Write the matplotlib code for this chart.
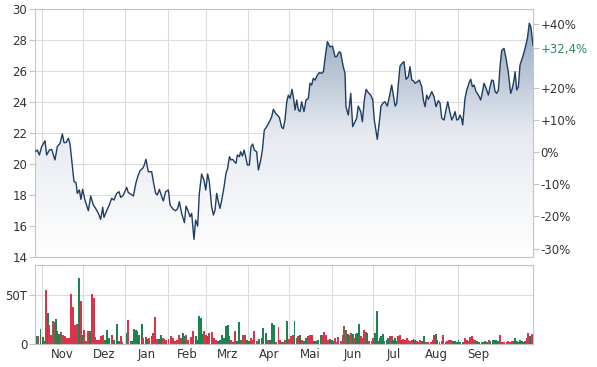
import numpy as np
import matplotlib
matplotlib.use('Agg')
import matplotlib.pyplot as plt
import matplotlib.dates as mdates
from matplotlib.colors import LinearSegmentedColormap

start = np.datetime64('2022-10-27')
end_day = 364.0

price_days = [0.0, 1.7, 3.2, 4.9, 7.3, 8.5, 10.5, 12.2, 14.6, 16.3, 18.3, 20.0, 21.2, 22.7, 24.4, 25.6,
              26.8, 28.5, 30.0, 30.9, 32.4, 33.6, 34.8, 36.5, 39.0, 40.7, 42.6, 44.3, 46.3, 48.0, 49.5,
              50.4, 52.4, 54.3, 56.0, 57.7, 59.7, 61.4, 62.6, 64.6, 67.0, 68.2, 69.9, 71.9, 73.8, 75.5,
              76.8, 78.7, 79.9, 81.1, 82.8, 85.3, 86.5, 88.2, 89.4, 90.9, 92.6, 93.8, 95.5, 97.5, 98.7,
              101.1, 102.8, 104.3, 105.5, 107.2, 109.2, 110.4, 112.1, 113.3, 114.5, 116.2, 117.4, 118.9,
              120.1, 121.8, 123.5, 124.8, 126.2, 127.4, 129.1, 130.4, 131.6, 132.8, 134.0, 135.2, 136.5,
              138.2, 139.6, 140.8, 142.1, 143.3, 144.5, 145.7, 146.9, 147.9, 149.4, 150.3, 151.6, 152.8,
              154.0, 155.2, 156.7, 157.9, 159.1, 160.3, 162.0, 163.3,
              165.0, 166.2, 167.6, 169.4, 171.3, 173.0, 174.2, 175.9, 177.1, 178.6, 180.3, 181.5, 182.7,
              184.0, 185.2, 186.4, 187.9, 188.8, 190.1, 191.3, 192.5, 193.7, 194.9, 196.6, 198.1, 199.8,
              201.0, 202.2, 203.4, 204.7, 206.4, 207.8, 209.6, 210.8, 212.0, 213.7,
              215.6, 217.5, 219.3, 220.4, 222.4, 223.4, 225.3, 226.6,
              227.3, 229.0, 230.8, 232.2, 233.9, 235.1, 236.3, 238.1, 239.3, 240.7, 242.0, 243.7, 245.4,
              246.9, 248.0, 250.2, 251.7, 252.9, 254.6, 255.8, 257.5, 259.0, 260.7, 261.9, 263.2, 264.4,
              265.6, 266.8, 268.8, 269.7, 271.2, 272.9, 274.1, 275.4, 276.5, 277.8, 279.5, 280.9, 282.7,
              283.9, 285.1, 286.3, 287.5, 290.0,
              291.7, 293.1, 294.8, 296.1, 297.3, 299.0, 300.4, 301.7, 302.9, 304.6, 305.8, 307.0, 308.3,
              309.4, 310.7, 311.9, 312.6, 314.3, 315.6, 317.5, 318.5, 319.7, 320.9, 322.4, 324.1, 325.8,
              327.3, 328.2, 329.7, 331.4, 332.6, 333.8, 335.0, 336.3, 337.5, 338.7, 339.9, 341.1, 342.8,
              344.3, 345.9, 347.7, 348.9, 350.1, 350.9, 352.1, 353.3, 354.5, 356.5, 358.2, 359.9, 361.3,
              362.4, 363.3, 364.0]
prices = [20.78, 20.89, 20.57, 21.11, 21.49, 20.57, 20.89, 20.93, 20.25, 21.11, 21.32, 21.93, 21.37,
          21.37, 21.65, 21.28, 20.25, 18.85, 18.78, 18.09, 18.31, 17.70, 18.35, 17.66, 16.97, 17.92,
          17.34, 17.12, 16.80, 16.41, 17.19, 16.54, 16.97, 17.34, 17.77, 17.66, 18.09, 18.20, 17.83,
          17.98, 18.48, 18.14, 18.05, 17.92, 18.78, 19.28, 19.56, 19.71, 19.92, 20.29, 19.49, 19.49,
          18.85, 18.09, 17.98, 18.35, 17.88, 17.60, 18.20, 18.31, 17.34, 17.06, 16.97, 17.12, 17.55,
          16.80, 16.20, 17.27, 16.91, 16.58, 16.80, 15.12, 16.37, 15.98, 18.09, 19.34, 18.95, 18.31,
          19.34, 18.85, 17.23, 16.69, 17.02, 18.09, 17.55, 17.12, 17.66, 18.52, 19.38, 19.71, 20.46,
          20.25, 20.29, 20.14, 20.03, 20.57, 20.46, 20.78, 20.50, 20.89, 20.46, 19.92, 19.92, 21.11,
          21.28, 20.89, 20.78, 19.60,
          20.25, 20.89, 22.18, 22.40, 22.72, 23.04, 23.52, 23.26, 23.15, 23.00, 22.36, 22.27, 22.83,
          24.01, 24.44, 24.23, 24.81, 24.34, 23.48, 24.12, 23.48, 23.37, 24.01, 23.37, 24.12, 24.23,
          25.20, 25.09, 25.52, 25.41, 25.74, 25.89, 25.85, 25.95, 26.81, 27.89,
          27.56, 27.60, 26.92, 26.92, 27.24, 27.18, 26.27, 25.85,
          23.69, 23.15, 24.55, 22.40, 22.72, 22.94, 23.73, 23.37, 22.72, 24.12, 24.81, 24.59, 24.44,
          24.12, 22.83, 21.58, 22.72, 23.73, 23.95, 24.01, 23.73, 24.33, 25.09, 24.44, 23.73, 23.91,
          25.20, 26.32, 26.53, 26.60, 25.46, 25.63, 26.27, 25.41, 25.37, 25.20, 25.30, 25.41, 24.98,
          24.12, 23.69, 24.44, 24.17, 24.66,
          24.33, 23.69, 24.08, 23.91, 22.94, 22.83, 23.48, 24.01, 23.48, 22.83, 23.04, 23.37, 22.83,
          22.87, 23.15, 22.87, 22.51, 24.23, 24.77, 25.30, 25.46, 24.98, 25.09, 24.66, 24.44, 24.12,
          24.77, 25.20, 24.88, 24.44, 24.98, 25.41, 25.37, 24.66, 24.55, 24.77, 26.27, 27.31, 27.46,
          26.81, 25.95, 24.55, 24.88, 25.41, 25.95, 24.77, 24.98, 26.38, 26.92, 27.46, 28.10, 29.08,
          28.86, 28.21, 27.67]

vol_days = [0.7, 2.4, 4.1, 5.6, 6.8, 8.0, 9.3, 10.5, 11.7, 12.9, 13.9, 15.1, 16.3, 17.8, 19.0, 20.2,
            21.9, 23.6, 24.9, 26.3, 27.5, 28.8, 30.0, 30.9, 32.2, 33.4, 34.6, 35.8, 37.3, 38.5, 40.2,
            41.9, 43.1, 44.3, 45.6, 46.8, 48.2, 49.9, 51.2, 52.9, 54.3, 56.0, 57.7, 59.7, 61.4, 62.6,
            63.8, 67.0, 68.2, 69.9, 71.2, 72.6, 73.8, 75.0, 76.3, 78.0, 79.2, 80.9, 82.1, 83.6, 85.3,
            86.5, 87.7, 88.9, 90.6, 92.1, 93.3, 94.5, 95.8, 97.5, 99.2, 100.6, 102.3, 103.6, 105.5,
            106.7, 107.9, 109.2, 110.4, 112.1, 113.8, 115.7, 117.4, 118.9, 120.1, 121.3, 122.6, 123.8,
            125.0, 126.2, 127.4, 129.1, 130.8, 132.3, 134.0, 135.2, 136.5, 138.2, 139.4, 140.8, 142.1,
            143.3, 145.0, 146.2, 147.9, 149.1, 150.3, 151.8, 153.5, 154.7, 156.2, 157.6, 159.1, 160.3,
            162.0, 164.0, 165.7, 166.9, 168.6, 170.1, 171.8, 173.0, 174.7, 176.2, 177.9, 179.1, 180.3,
            181.5, 182.7, 184.0, 185.7, 186.9, 188.4, 189.6, 191.3, 192.5, 193.7,
            194.9, 196.6, 198.1, 199.8, 201.0, 202.7, 203.9, 205.4, 207.1, 208.8, 210.3, 211.5, 212.7,
            214.4, 215.6, 216.9, 218.1, 219.3, 220.5, 221.7, 223.4, 224.9, 226.1, 227.3, 228.6, 229.8,
            231.0, 232.2, 233.4, 234.6, 235.6, 236.8, 238.1, 239.5, 240.5, 241.7, 242.9, 244.4, 246.1,
            247.3, 248.5, 249.8, 251.0, 252.2, 252.9, 254.1, 255.4, 257.1, 258.3, 259.5, 260.7, 261.9,
            263.2, 264.4, 265.6, 266.8, 268.0, 269.2, 270.5, 271.7, 272.9, 274.1, 275.3, 276.6, 277.8,
            279.0, 280.2, 281.4, 282.7, 284.4, 285.8, 287.5, 289.2, 290.7, 291.9, 293.1, 294.1, 295.6,
            297.3, 298.5, 300.2, 301.4, 302.6, 303.8, 305.3, 307.0, 308.2, 309.5, 310.7, 312.6, 314.3,
            315.5, 316.8, 318.0, 319.2, 320.4, 321.6, 322.9, 324.8, 326.5, 327.7, 328.9, 330.6, 332.1,
            333.0, 334.5, 335.7, 336.9, 338.7, 339.9, 341.1, 342.8, 344.8, 346.0, 347.2, 348.4, 349.7,
            350.9, 352.1, 353.3, 354.5, 355.8, 357.0, 358.2, 359.4, 360.6, 361.8, 363.0]
vols = [8.4, 7.8, 15.5, 6.8, 3.4, 55.1, 31.4, 18.9, 9.5, 23.0, 22.3, 25.7, 13.5, 10.1, 12.2, 9.5,
        8.4, 6.1, 6.1, 50.7, 38.2, 19.6, 18.9, 20.3, 67.6, 43.9, 9.5, 14.5, 3.4, 12.8, 13.5,
        50.7, 46.6, 6.8, 4.4, 4.4, 7.8, 9.5, 4.4, 14.5, 6.1, 9.5, 4.4, 20.3, 3.4, 7.8,
        2.0, 11.1, 24.7, 3.4, 2.7, 15.5, 14.5, 12.8, 9.5, 20.3, 6.1, 6.8, 5.4, 6.1, 7.8,
        11.1, 28.0, 5.4, 5.4, 8.9, 6.1, 5.4, 4.4, 5.4, 7.8, 6.1, 3.4, 4.4, 9.5,
        6.1, 11.1, 7.8, 9.5, 4.4, 6.8, 13.5, 7.8, 4.4, 28.7, 26.4, 10.1, 13.5,
        9.5, 7.8, 11.1, 12.2, 6.1, 4.4, 3.4, 4.4, 9.5, 6.1, 17.9, 19.6, 7.8,
        4.4, 2.0, 12.8, 3.4, 22.3, 4.4, 9.5, 8.9, 4.4, 3.4, 6.1, 4.4, 12.8,
        3.4, 5.4, 6.1, 16.2, 11.1, 4.4, 4.4, 21.3, 19.6, 2.0, 16.9, 4.4, 2.0,
        2.0, 4.4, 23.0, 5.4, 7.8, 9.5, 23.6, 6.1, 7.8, 9.5,
        4.4, 3.4, 6.1, 7.8, 9.5, 9.5, 3.4, 3.4, 4.4, 8.9, 9.5, 12.2, 9.5,
        4.4, 5.4, 4.4, 3.4, 6.1, 2.0, 6.8, 2.7, 9.5, 17.9, 14.5, 10.1, 8.9,
        11.1, 10.1, 6.1, 10.1, 11.1, 20.3, 7.8, 6.1, 14.5, 12.2, 11.1, 2.7, 3.4,
        6.1, 11.1, 33.8, 3.4, 6.1, 7.8, 10.1, 3.4, 4.4, 6.1, 7.8, 7.8, 4.4,
        6.1, 3.4, 7.8, 9.5, 4.4, 5.4, 4.4, 6.1, 4.4, 3.4, 4.4, 5.4, 4.4,
        2.7, 2.0, 4.4, 3.4, 7.8, 2.0, 2.0, 2.0, 4.4, 9.5, 10.1, 4.4, 2.0,
        3.4, 9.5, 2.0, 2.7, 4.4, 4.4, 2.7, 3.4, 2.0, 4.4, 2.0, 2.0, 6.1,
        4.4, 3.4, 6.8, 7.8, 5.4, 4.4, 3.4, 2.0, 2.0, 2.0, 3.4, 2.0, 4.4,
        3.4, 4.4, 4.4, 4.4, 3.4, 9.5, 2.0, 2.0, 2.0, 3.4, 2.0, 3.4, 2.7,
        6.1, 2.7, 2.0, 4.4, 3.4, 2.0, 3.4, 6.1, 11.1, 7.8, 10.1]
vol_colors = ("grgggrgrrbbgggbbrrrrrrrrgrgrrrgrrbrrrrgggrgggrrgrgggggggrrgrrrrrggrrrrrrrrrrggrrrrg"
              "ggggrrgrrrrgggggggrrrggbbrggrrrbggggrgggrrrggrgrrrg"
              "brgrggrrrggggrrrrgggrrrrbbbgrrgrgggrrrrgrrrgggggggggrrgggrrgrrrrrrggrrrggrrrrrggrrrrrrr"
              "ggggggrrrrrrrggggggrgggggrrrrrrrggggggggrr")

price_ticks = [14, 16, 18, 20, 22, 24, 26, 28, 30]
pct_ticks = [-30, -20, -10, 0, 10, 20, 32.4, 40]
base_price = 20.75
current_pct = 32.4
month_labels = ['Nov', 'Dez', 'Jan', 'Feb', 'Mrz', 'Apr', 'Mai', 'Jun', 'Jul', 'Aug', 'Sep']

colors = {'g': '#1c8250', 'r': '#d8344a', 'b': '#8a5b4e'}
line_col = '#1f3d62'
grid_col = '#dcdcdc'
spine_col = '#c4c4c4'
txt_col = '#333333'
fs = 8.5

t0 = mdates.date2num(start)
x = t0 + np.array(price_days)
y = np.array(prices)
vx = t0 + np.array(vol_days)
vy = np.array(vols)
vc = [colors[c] for c in vol_colors[:len(vols)]]

fig = plt.figure(figsize=(5.97, 3.67), dpi=100)
ax = fig.add_axes([35/597, 1-256.7/367, 498/597, 247.7/367])
axv = fig.add_axes([35/597, 1-344/367, 498/597, 79/367], sharex=ax)

ymin, ymax = 14, 30
ax.set_ylim(ymin, ymax)
ax.set_xlim(t0, t0 + end_day)

# gradient fill under line
poly = ax.fill_between(x, y, ymin, color='none', lw=0)
cmap = LinearSegmentedColormap.from_list('g', ['#ffffff', '#e6eaf0', '#8a9fb8'])
grad = np.linspace(0, 1, 256).reshape(-1, 1)
im = ax.imshow(grad, extent=[t0, t0 + end_day, ymin, ymax], origin='lower', aspect='auto',
               cmap=cmap, zorder=1)
path = poly.get_paths()[0]
im.set_clip_path(path, transform=ax.transData)
ax.plot(x, y, color=line_col, lw=1.0, zorder=3)

# bars
axv.bar(vx, vy, width=1.3, color=vc, zorder=2, linewidth=0)
axv.set_ylim(0, 80.6)

month_starts = np.arange(np.datetime64('2022-11'), np.datetime64('2023-11'), dtype='datetime64[M]')
ms_num = mdates.date2num(month_starts.astype('datetime64[D]'))
centers = (ms_num[:-1] + ms_num[1:]) / 2

for a in (ax, axv):
    a.set_xticks(ms_num[:-1])
    a.grid(True, color=grid_col, lw=0.8, zorder=0)
    a.set_axisbelow(True)
    for s in a.spines.values():
        s.set_color(spine_col)
        s.set_linewidth(0.8)
    a.tick_params(axis='y', colors=spine_col, labelcolor=txt_col, labelsize=fs, length=4, pad=1.5)

ax.set_yticks(price_ticks)
ax.set_yticklabels([str(t) for t in price_ticks])

axv.set_yticks([0, 50])
axv.set_yticklabels(['0', '50T'])
axv.set_xticks(centers, minor=True)
axv.set_xticklabels(month_labels, minor=True)
axv.grid(False, which='minor')
ax.tick_params(axis='x', which='both', length=0, labelbottom=False)
axv.tick_params(axis='x', which='major', length=0, labelbottom=False)
axv.tick_params(axis='x', which='minor', length=0, labelsize=fs, labelcolor=txt_col, pad=3)

# right percent axis
ax2 = ax.twinx()
ax2.set_ylim((ymin / base_price - 1) * 100, (ymax / base_price - 1) * 100)
ax2.set_yticks(pct_ticks)
def fmt(p):
    if abs(p) < 1e-9:
        return '0%'
    s = ('%+.1f' % p).rstrip('0').rstrip('.').replace('.', ',')
    return s + '%'
ax2.set_yticklabels([fmt(p) for p in pct_ticks])
ax2.tick_params(axis='y', colors=spine_col, labelcolor=txt_col, labelsize=fs, length=4, pad=1.5)
ax2.tick_params(axis='x', which='both', length=0, labelbottom=False)
for s in ax2.spines.values():
    s.set_visible(False)
for lab, p in zip(ax2.get_yticklabels(), pct_ticks):
    if p == current_pct:
        lab.set_color('#2e8b57')

fig.savefig('out.png', dpi=100)
